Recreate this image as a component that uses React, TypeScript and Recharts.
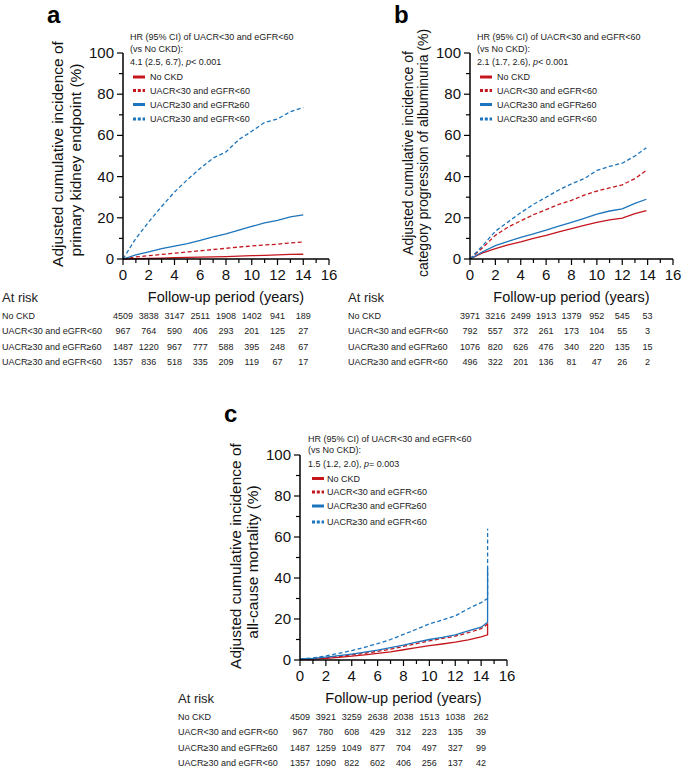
import React from "react";
import { LineChart, Line, XAxis, YAxis } from "recharts";

const RED = "#c4161c";
const BLUE = "#1c75bc";
const FONT = "'Liberation Sans', Arial, Helvetica, sans-serif";

// groups, in legend order
const groupNames = [
  "No CKD",
  "UACR<30 and eGFR<60",
  "UACR≥30 and eGFR≥60",
  "UACR≥30 and eGFR<60",
];
const groupColors = [RED, RED, BLUE, BLUE];
const groupDashed = [false, true, false, true];

const xTicks = [0, 1, 2, 3, 4, 5, 6, 7, 8, 9, 10, 11, 12, 13, 14, 15, 16];
const yTicks = [0, 10, 20, 30, 40, 50, 60, 70, 80, 90, 100];

// panel a: primary kidney endpoint
const yearsA = [0, 1, 2, 3, 4, 5, 6, 7, 8, 9, 10, 11, 12, 13, 14];
const aNoCkd = [0, 0.15, 0.3, 0.45, 0.6, 0.75, 0.9, 1.05, 1.2, 1.4, 1.6, 1.8, 2.0, 2.2, 2.3];
const aLowEgfr = [0, 1, 1.6, 2.2, 2.8, 3.4, 4, 4.6, 5.2, 5.8, 6.3, 6.8, 7.2, 7.8, 8.3];
const aAlbumin = [0, 2, 3.5, 5, 6.3, 7.5, 9, 10.7, 12.2, 14, 15.8, 17.5, 18.8, 20.5, 21.4];
const aBoth = [0, 10, 18, 25.5, 32.5, 38.5, 44, 49, 52, 58, 62, 66.3, 68, 71.5, 73.6];

// panel b: category progression of albuminuria
const yearsB = [0, 1, 2, 3, 4, 5, 6, 7, 8, 9, 10, 11, 12, 13, 13.9];
const bNoCkd = [0, 3, 5, 6.8, 8.3, 10, 11.5, 13.2, 14.8, 16.3, 17.8, 19, 19.8, 22, 23.5];
const bLowEgfr = [0, 5.5, 11.5, 15.5, 18.5, 21.5, 24, 26.5, 28.5, 31, 33, 34.5, 36, 39, 43];
const bAlbumin = [0, 3.5, 6.5, 8.5, 10.5, 12.2, 14, 16, 17.8, 19.7, 21.8, 23.3, 24.3, 27, 29];
const bBoth = [0, 6.5, 13.5, 18, 22.5, 26.5, 30, 33.5, 36.5, 39, 43, 45, 46.5, 50, 54];

// panel c: all-cause mortality (jump at the last time point)
const yearsC = [0, 1, 2, 3, 4, 5, 6, 7, 8, 9, 10, 11, 12, 13, 14, 14.5, 14.5];
const cNoCkd = [0.2, 0.4, 0.8, 1.3, 1.9, 2.5, 3.2, 4, 5, 6, 7, 7.8, 8.7, 9.8, 11.3, 12.3, 17.9];
const cLowEgfr = [0.3, 0.6, 1.1, 1.7, 2.5, 3.3, 4.2, 5.3, 6.6, 8, 9.3, 10.5, 11.6, 13.3, 15.3, 17.5, 17.5];
const cAlbumin = [0.5, 0.8, 1.4, 2.1, 2.9, 3.8, 4.8, 6, 7.3, 8.7, 10, 11, 12.2, 14.2, 16, 18.4, 45];
const cBoth = [0.5, 1, 2, 3.2, 4.6, 6.2, 8, 10, 12.5, 15, 17.6, 19.5, 21.5, 25, 28, 30, 64];

// numbers at risk at 0, 2, ..., 14 years
const riskA = [
  [4509, 3838, 3147, 2511, 1908, 1402, 941, 189],
  [967, 764, 590, 406, 293, 201, 125, 27],
  [1487, 1220, 967, 777, 588, 395, 248, 67],
  [1357, 836, 518, 335, 209, 119, 67, 17],
];
const riskB = [
  [3971, 3216, 2499, 1913, 1379, 952, 545, 53],
  [792, 557, 372, 261, 173, 104, 55, 3],
  [1076, 820, 626, 476, 340, 220, 135, 15],
  [496, 322, 201, 136, 81, 47, 26, 2],
];
const riskC = [
  [4509, 3921, 3259, 2638, 2038, 1513, 1038, 262],
  [967, 780, 608, 429, 312, 223, 135, 39],
  [1487, 1259, 1049, 877, 704, 497, 327, 99],
  [1357, 1090, 822, 602, 406, 256, 137, 42],
];

const ROW_OFFSETS = [59.5, 75, 90.5, 106];

const toPoints = (xs: number[], ys: number[]) => xs.map((x, i) => ({ x, y: ys[i] }));

const XTick = (props: any) => {
  const { x, y, payload, risk } = props;
  const v = payload.value;
  const major = v % 2 === 0;
  return (
    <g>
      <line x1={x} x2={x} y1={y} y2={y + (major ? 6 : 4)} stroke="#000" strokeWidth={1.2} />
      {major && (
        <text x={x} y={y + 21} textAnchor="middle" fontSize={15} fill="#111" fontFamily={FONT}>
          {v}
        </text>
      )}
      {major &&
        v <= 14 &&
        risk.map((row: number[], i: number) => (
          <text key={i} x={x} y={y + ROW_OFFSETS[i]} textAnchor="middle" fontSize={9} fill="#222" fontFamily={FONT}>
            {row[v / 2]}
          </text>
        ))}
    </g>
  );
};

const YTick = (props: any) => {
  const { x, y, payload } = props;
  const v = payload.value;
  const major = v % 20 === 0;
  return (
    <g>
      <line x1={x} x2={x - (major ? 6 : 4)} y1={y} y2={y} stroke="#000" strokeWidth={1.2} />
      {major && (
        <text x={x - 9} y={y + 5} textAnchor="end" fontSize={15} fill="#111" fontFamily={FONT}>
          {v}
        </text>
      )}
    </g>
  );
};

interface PanelProps {
  left: number;
  top: number;
  width: number;
  height: number;
  plotTop: number;
  right: number;
  yw: number;
  xh: number;
  years: number[];
  series: number[][];
  risk: number[][];
}

const Panel = ({ left, top, width, height, plotTop, right, yw, xh, years, series, risk }: PanelProps) => (
  <div style={{ position: "absolute", left, top }}>
    <LineChart width={width} height={height} margin={{ top: plotTop, right, bottom: 0, left: 0 }}>
      <XAxis
        type="number"
        dataKey="x"
        domain={[0, 16]}
        ticks={xTicks}
        interval={0}
        tickSize={0}
        tickMargin={0}
        tickLine={false}
        height={xh}
        axisLine={{ stroke: "#000", strokeWidth: 1.5 }}
        tick={(p: any) => <XTick {...p} risk={risk} />}
      />
      <YAxis
        type="number"
        domain={[0, 100]}
        ticks={yTicks}
        interval={0}
        tickSize={0}
        tickMargin={0}
        tickLine={false}
        width={yw}
        axisLine={{ stroke: "#000", strokeWidth: 1.5 }}
        tick={(p: any) => <YTick {...p} />}
      />
      {series.map((ys, i) => (
        <Line
          key={groupNames[i]}
          data={toPoints(years, ys)}
          dataKey="y"
          type="linear"
          stroke={groupColors[i]}
          strokeWidth={1.3}
          strokeDasharray={groupDashed[i] ? "4 2.5" : undefined}
          dot={false}
          activeDot={false}
          isAnimationActive={false}
        />
      ))}
    </LineChart>
  </div>
);

const LegendBlock = ({ x, sx, tx, hrY, itemY, hr }: any) => (
  <g fontFamily={FONT} fontSize={9} fill="#222">
    <text x={x} y={hrY[0]}>HR (95% CI) of UACR&lt;30 and eGFR&lt;60</text>
    <text x={x} y={hrY[1]}>(vs No CKD):</text>
    <text x={x} y={hrY[2]}>
      {hr[0]}
      <tspan fontStyle="italic">p</tspan>
      {hr[1]}
    </text>
    {groupNames.map((n, i) => (
      <g key={n}>
        <line
          x1={sx}
          x2={sx + 12}
          y1={itemY[i] - 3}
          y2={itemY[i] - 3}
          stroke={groupColors[i]}
          strokeWidth={3}
          strokeDasharray={groupDashed[i] ? "3 1.8" : undefined}
        />
        <text x={tx} y={itemY[i]}>{n}</text>
      </g>
    ))}
  </g>
);

const RowLabels = ({ x, axisY }: any) => (
  <g fontFamily={FONT} fill="#222">
    <text x={x} y={axisY + 43} fontSize={13}>At risk</text>
    {groupNames.map((n, i) => (
      <text key={n} x={x} y={axisY + ROW_OFFSETS[i]} fontSize={9}>
        {n}
      </text>
    ))}
  </g>
);

const YLabel = ({ x1, x2, cy1, cy2, size, lines }: any) => (
  <g fontFamily={FONT} fontSize={size} fill="#111" textAnchor="middle">
    <text transform={`translate(${x1},${cy1}) rotate(-90)`}>{lines[0]}</text>
    <text transform={`translate(${x2},${cy2}) rotate(-90)`}>{lines[1]}</text>
  </g>
);

export default function App() {
  return (
    <div style={{ position: "absolute", left: 0, top: 0, width: 685, height: 768, background: "#fff", fontFamily: FONT }}>
      <Panel left={0} top={0} width={340} height={375} plotTop={53} right={11} yw={123} xh={116}
        years={yearsA} series={[aNoCkd, aLowEgfr, aAlbumin, aBoth]} risk={riskA} />
      <Panel left={340} top={0} width={345} height={375} plotTop={53} right={12} yw={130} xh={116}
        years={yearsB} series={[bNoCkd, bLowEgfr, bAlbumin, bBoth]} risk={riskB} />
      <Panel left={160} top={400} width={360} height={368} plotTop={55} right={13} yw={140} xh={108}
        years={yearsC} series={[cNoCkd, cLowEgfr, cAlbumin, cBoth]} risk={riskC} />

      <svg width={685} height={768} style={{ position: "absolute", left: 0, top: 0, pointerEvents: "none" }}>
        <g fontFamily={FONT} fontWeight="bold" fontSize={24} fill="#000">
          <text x={47} y={23}>a</text>
          <text x={394} y={23}>b</text>
          <text x={224} y={422}>c</text>
        </g>

        <YLabel x1={62.5} x2={80.5} cy1={154} cy2={160} size={15.5}
          lines={["Adjusted cumulative incidence of", "primary kidney endpoint (%)"]} />
        <YLabel x1={413} x2={428} cy1={153} cy2={153} size={14}
          lines={["Adjusted cumulative incidence of", "category progression of albuminuria (%)"]} />
        <YLabel x1={240.5} x2={257.5} cy1={556} cy2={562} size={15.5}
          lines={["Adjusted cumulative incidence of", "all-cause mortality (%)"]} />

        <LegendBlock x={130} sx={133} tx={150} hrY={[39.5, 51.5, 65]} itemY={[80, 93.5, 107.5, 122]}
          hr={["4.1 (2.5, 6.7), ", "< 0.001"]} />
        <LegendBlock x={477} sx={480} tx={497} hrY={[39.5, 51.5, 65]} itemY={[80, 93.5, 107.5, 122]}
          hr={["2.1 (1.7, 2.6), ", "< 0.001"]} />
        <LegendBlock x={308} sx={312} tx={327} hrY={[441.5, 453, 466.5]} itemY={[481.5, 495, 509, 525]}
          hr={["1.5 (1.2, 2.0), ", "= 0.003"]} />

        <g fontFamily={FONT} fontSize={14.5} fill="#111" textAnchor="middle">
          <text x={226} y={302}>Follow-up period (years)</text>
          <text x={571.5} y={302}>Follow-up period (years)</text>
          <text x={403.5} y={703}>Follow-up period (years)</text>
        </g>

        <RowLabels x={2} axisY={259} />
        <RowLabels x={348} axisY={259} />
        <RowLabels x={178} axisY={660} />
      </svg>
    </div>
  );
}
